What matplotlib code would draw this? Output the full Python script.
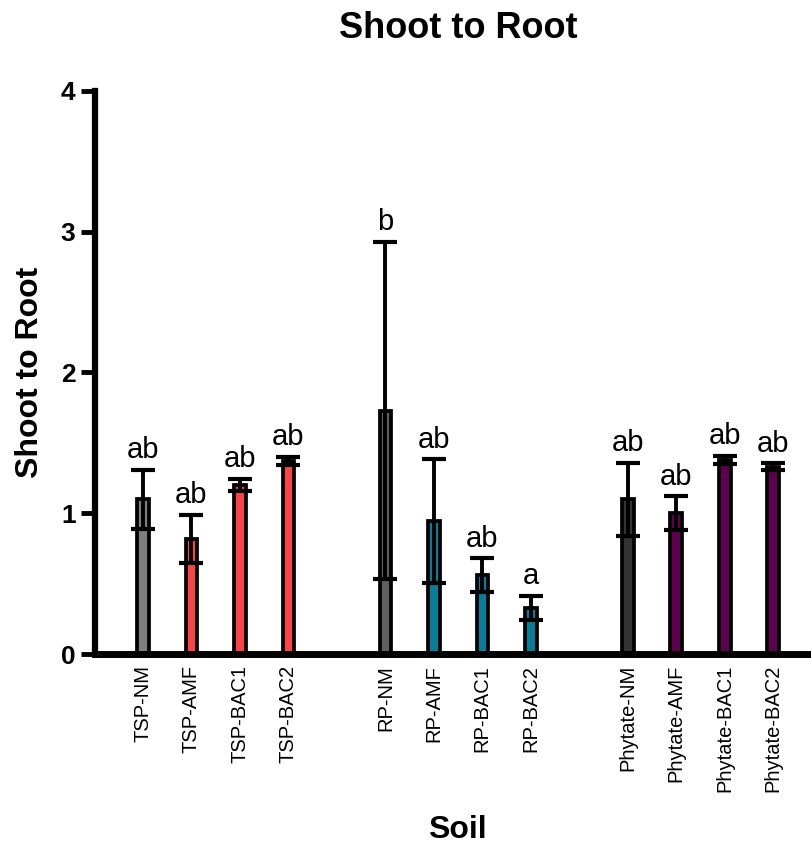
import matplotlib.pyplot as plt
import numpy as np

plt.rcParams['font.family'] = ['Liberation Sans', 'DejaVu Sans']

# Group labels, means, SD and significance letters
labels = ['TSP-NM', 'TSP-AMF', 'TSP-BAC1', 'TSP-BAC2',
          'RP-NM', 'RP-AMF', 'RP-BAC1', 'RP-BAC2',
          'Phytate-NM', 'Phytate-AMF', 'Phytate-BAC1', 'Phytate-BAC2']
means = [1.10, 0.82, 1.20, 1.37,
         1.73, 0.945, 0.56, 0.33,
         1.10, 1.00, 1.38, 1.33]
sds = [0.21, 0.17, 0.045, 0.03,
       1.20, 0.44, 0.12, 0.085,
       0.26, 0.12, 0.03, 0.025]
letters = ['ab', 'ab', 'ab', 'ab',
           'b', 'ab', 'ab', 'a',
           'ab', 'ab', 'ab', 'ab']
colors = ['#7f7f7f', '#fc4446', '#fc4446', '#fc4446',
          '#5f5f5f', '#077d97', '#077d97', '#077d97',
          '#333333', '#5f004f', '#5f004f', '#5f004f']

# three groups of four with a gap of one slot between them
pos = np.array([0, 1, 2, 3, 5, 6, 7, 8, 10, 11, 12, 13])

fig = plt.figure(figsize=(8.12, 8.46), dpi=100)
ax = fig.add_axes([95 / 812, 1 - 654 / 846, (812 - 95) / 812, (654 - 91) / 846])

ax.bar(pos, means, width=0.24, color=colors, edgecolor='black', linewidth=2.7, zorder=2)
ax.errorbar(pos, means, yerr=sds, fmt='none', ecolor='black', elinewidth=2.8,
            capsize=8.3, capthick=3.0, zorder=3)

for x, m, s, t in zip(pos, means, sds, letters):
    ax.annotate(t, (x, m + s), xytext=(0, 4), textcoords='offset points',
                ha='center', va='bottom', fontsize=21)

ax.set_xlim(-0.99, 13.8)
ax.set_ylim(0, 4)
ax.set_yticks([0, 1, 2, 3, 4])
ax.set_xticks(pos)
ax.set_xticklabels(labels, rotation=90, fontsize=14.5)
ax.tick_params(axis='x', length=0, pad=8)
ax.tick_params(axis='y', length=10, width=3.5, labelsize=19, pad=4)
for lab in ax.get_yticklabels():
    lab.set_fontweight('bold')

ax.spines['top'].set_visible(False)
ax.spines['right'].set_visible(False)
ax.spines['left'].set_linewidth(4.5)
ax.spines['bottom'].set_linewidth(5)
ax.spines['left'].set_capstyle('projecting')

fig.text(458 / 812, 1 - 28 / 846, 'Shoot to Root', ha='center', va='center',
         fontsize=26, fontweight='bold')
fig.text(30 / 812, 1 - 372 / 846, 'Shoot to Root', ha='center', va='center',
         rotation=90, fontsize=23, fontweight='bold')
fig.text(457 / 812, 1 - 830 / 846, 'Soil', ha='center', va='center',
         fontsize=23, fontweight='bold')

fig.savefig('out.png', dpi=100)
